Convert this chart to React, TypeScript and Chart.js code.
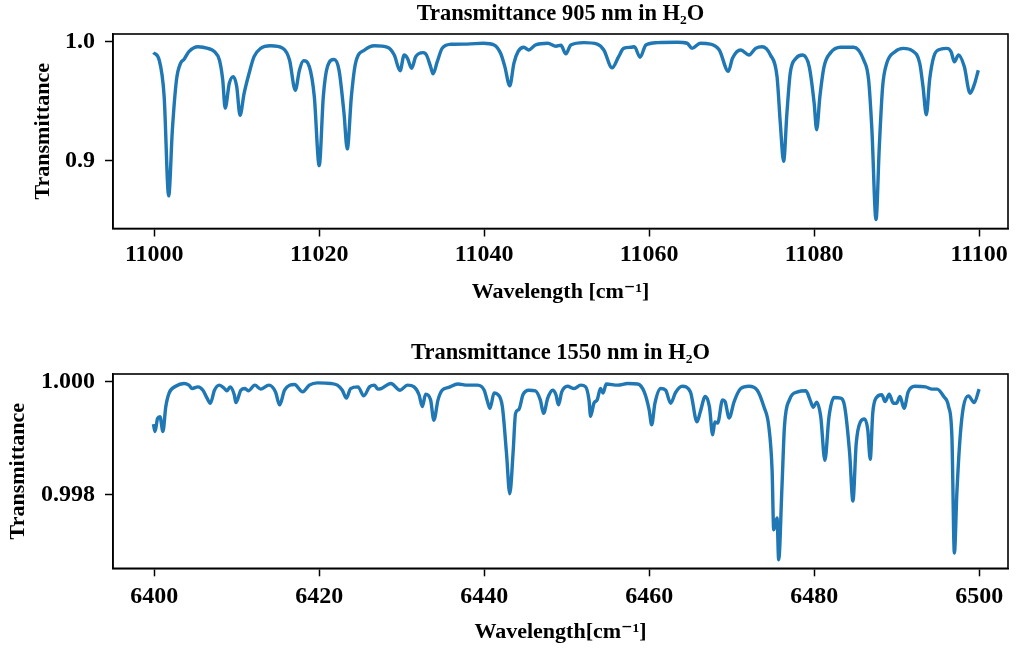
import React, { useEffect, useRef } from "react";
import { Chart, registerables } from "chart.js";

Chart.register(...registerables);

// ---------- Data: 905 nm band ----------
const WAVENUMBER_905 = [
  10999.9, 11000.6, 11001.2, 11001.75, 11002.2, 11002.7, 11003.2, 11003.6, 11004.2, 11005.3,
  11006.5, 11007.3, 11007.9, 11008.3, 11008.6, 11009.1, 11009.6, 11010.0, 11010.4, 11010.9,
  11011.5, 11012.1, 11012.9, 11014.1, 11015.6, 11016.4, 11017.1, 11017.6, 11018.1, 11018.8,
  11019.4, 11020.0, 11020.5, 11021.0, 11021.8, 11022.4, 11023.0, 11023.4, 11023.9, 11024.4,
  11025.5, 11026.7, 11028.3, 11029.1, 11029.8, 11030.3, 11030.7, 11031.2, 11031.7, 11032.6,
  11033.0, 11033.5, 11033.8, 11034.3, 11034.9, 11035.9, 11037.9, 11039.9, 11041.2, 11042.0,
  11042.5, 11043.1, 11043.6, 11044.1, 11044.8, 11045.4, 11046.2, 11047.7, 11048.7, 11049.3,
  11049.9, 11050.5, 11052.1, 11053.7, 11054.5, 11055.5, 11056.3, 11056.9, 11057.8, 11058.2,
  11058.9, 11059.6, 11061.0, 11063.4, 11064.6, 11065.2, 11066.2, 11067.4, 11068.5, 11069.6,
  11070.1, 11071.1, 11072.1, 11072.9, 11073.7, 11074.7, 11075.5, 11075.9, 11076.3, 11076.7,
  11077.1, 11077.8, 11078.6, 11079.4, 11080.0, 11080.3, 11080.7, 11081.2, 11082.0, 11083.2,
  11084.8, 11086.0, 11086.6, 11087.0, 11087.5, 11087.9, 11088.3, 11088.8, 11089.8, 11090.8,
  11091.9, 11092.8, 11093.2, 11093.6, 11094.0, 11094.5, 11095.3, 11096.1, 11096.6, 11097.0,
  11097.5, 11098.2, 11098.9, 11099.4, 11099.9,
];
const TRANS_905 = [
  0.9908, 0.9846, 0.954, 0.870, 0.926, 0.968, 0.982, 0.985, 0.9916, 0.9958,
  0.9944, 0.9916, 0.9846, 0.968, 0.944, 0.965, 0.9706, 0.962, 0.938, 0.9566,
  0.9734, 0.9874, 0.9944, 0.9966, 0.9944, 0.9846, 0.959, 0.976, 0.984, 0.979,
  0.954, 0.8955, 0.954, 0.979, 0.985, 0.976, 0.940, 0.9096, 0.954, 0.9818,
  0.993, 0.9966, 0.9953, 0.9888, 0.9755, 0.9888, 0.986, 0.9776, 0.9874, 0.9908,
  0.9888, 0.979, 0.9729, 0.983, 0.9944, 0.9978, 0.998, 0.9987, 0.9972, 0.990,
  0.979, 0.9628, 0.9818, 0.9916, 0.9953, 0.993, 0.9972, 0.9987, 0.9962, 0.997,
  0.9897, 0.9972, 0.9992, 0.998, 0.993, 0.978, 0.9874, 0.9944, 0.9953, 0.9958,
  0.9869, 0.9972, 0.9992, 0.9995, 0.9987, 0.9944, 0.9987, 0.998, 0.993, 0.975,
  0.986, 0.993, 0.9888, 0.9944, 0.9958, 0.9888, 0.9706, 0.931, 0.8992, 0.940,
  0.9734, 0.986, 0.9888, 0.979, 0.9482, 0.9258, 0.954, 0.979, 0.9908, 0.9953,
  0.9953, 0.9846, 0.968, 0.9258, 0.850, 0.9118, 0.962, 0.9818, 0.9916, 0.9944,
  0.9924, 0.9818, 0.962, 0.9384, 0.968, 0.9874, 0.9936, 0.9944, 0.9916, 0.983,
  0.9888, 0.979, 0.9566, 0.9636, 0.976,
];
const X_TICKS_905 = [11000, 11020, 11040, 11060, 11080, 11100];
const Y_TICKS_905 = [0.9, 1.0];

// ---------- Data: 1550 nm band ----------
const WAVENUMBER_1550 = [
  6399.9, 6400.1, 6400.4, 6400.7, 6401.05, 6401.4, 6401.8, 6402.6, 6403.6, 6404.2,
  6404.6, 6405.3, 6405.9, 6406.4, 6406.8, 6407.3, 6407.9, 6408.5, 6408.8, 6409.2,
  6409.7, 6409.9, 6410.5, 6411.0, 6411.4, 6412.2, 6412.9, 6413.9, 6414.7, 6415.2,
  6415.8, 6417.0, 6418.0, 6418.8, 6419.8, 6421.4, 6422.2, 6422.8, 6423.3, 6423.8,
  6424.7, 6425.4, 6426.1, 6426.7, 6427.1, 6427.5, 6428.7, 6429.8, 6430.7, 6431.5,
  6432.1, 6432.5, 6432.9, 6433.5, 6433.9, 6434.4, 6434.9, 6435.7, 6436.8, 6438.0,
  6439.2, 6440.0, 6440.4, 6440.7, 6441.2, 6441.6, 6442.2, 6442.7, 6443.1, 6443.5,
  6443.8, 6444.2, 6444.7, 6445.4, 6446.2, 6446.8, 6447.2, 6447.7, 6448.3, 6448.7,
  6449.0, 6449.4, 6450.1, 6450.9, 6451.7, 6452.3, 6452.7, 6452.9, 6453.3, 6453.7,
  6454.1, 6454.4, 6454.8, 6456.2, 6457.4, 6458.6, 6459.4, 6460.0, 6460.3, 6460.7,
  6461.4, 6462.0, 6462.6, 6463.2, 6464.0, 6465.0, 6465.8, 6466.2, 6466.8, 6467.3,
  6467.7, 6467.96, 6468.3, 6468.9, 6469.2, 6469.7, 6470.3, 6471.1, 6472.1, 6473.1,
  6473.9, 6474.5, 6474.9, 6475.1, 6475.5, 6475.7, 6476.1, 6476.4, 6477.0, 6478.0,
  6479.0, 6479.5, 6479.9, 6480.3, 6480.8, 6481.3, 6481.8, 6482.4, 6483.2, 6483.7,
  6484.3, 6484.7, 6485.1, 6485.6, 6486.1, 6486.5, 6486.8, 6487.1, 6487.5, 6488.2,
  6488.6, 6489.1, 6489.6, 6490.0, 6490.4, 6490.9, 6491.4, 6492.2, 6493.5, 6494.3,
  6494.9, 6495.7, 6496.3, 6496.7, 6497.0, 6497.3, 6497.7, 6498.1, 6498.7, 6499.4,
  6500.0,
];
const TRANS_1550 = [
  0.99925, 0.99912, 0.99935, 0.99938, 0.99912, 0.99956, 0.9998, 0.99992, 0.99997, 0.99994,
  0.99988, 0.99991, 0.99985, 0.99971, 0.99962, 0.99985, 0.99994, 0.99988, 0.99984, 0.99991,
  0.99977, 0.99963, 0.99985, 0.99988, 0.99984, 0.99994, 0.99987, 0.99994, 0.99982, 0.99959,
  0.99985, 0.99995, 0.99982, 0.99994, 0.99998, 0.99997, 0.99994, 0.99985, 0.99971, 0.99988,
  0.99991, 0.99975, 0.99991, 0.99994, 0.99987, 0.99988, 0.99997, 0.99985, 0.99994, 0.99991,
  0.99977, 0.99956, 0.99978, 0.99968, 0.99932, 0.99968, 0.99985, 0.9999, 0.99996, 0.99994,
  0.99994, 0.99985, 0.99965, 0.99953, 0.9998, 0.99978, 0.99956, 0.99874, 0.99802, 0.99874,
  0.99944, 0.99951, 0.99977, 0.99985, 0.99984, 0.99968, 0.99944, 0.99971, 0.99985, 0.99977,
  0.99959, 0.99982, 0.99992, 0.99988, 0.99994, 0.99991, 0.99968, 0.99939, 0.99962, 0.99968,
  0.99988, 0.9998, 0.99996, 0.99994, 0.99997, 0.99996, 0.99982, 0.9995, 0.99924, 0.99962,
  0.99988, 0.99985, 0.99962, 0.99981, 0.99992, 0.99982, 0.99929, 0.99947, 0.99974, 0.99956,
  0.99906, 0.99929, 0.99927, 0.99968, 0.99965, 0.99936, 0.99965, 0.99988, 0.99992, 0.99985,
  0.99956, 0.99921, 0.99844, 0.99738, 0.99759, 0.99685, 0.99815, 0.99921, 0.99968, 0.99982,
  0.99984, 0.99968, 0.99955, 0.99964, 0.99938, 0.99861, 0.99938, 0.99972, 0.99971, 0.99956,
  0.99874, 0.99789, 0.99891, 0.99929, 0.99934, 0.99915, 0.99863, 0.99944, 0.99971, 0.99977,
  0.99965, 0.99978, 0.99962, 0.99962, 0.99974, 0.99953, 0.99982, 0.99992, 0.99991, 0.99987,
  0.99987, 0.99974, 0.99956, 0.99903, 0.99697, 0.99803, 0.99903, 0.99956, 0.99975, 0.99963,
  0.99987,
];
const X_TICKS_1550 = [6400, 6420, 6440, 6460, 6480, 6500];
const Y_TICKS_1550 = [0.998, 1.0];

const FONT_FAMILY = "'Liberation Serif', 'DejaVu Serif', 'Times New Roman', serif";
const LINE_COLOR = "#1f77b4";

const framePlugin = {
  id: "frame",
  afterDatasetsDraw(chart: any) {
    const { ctx, chartArea } = chart;
    const { left, top, right, bottom } = chartArea;
    ctx.save();
    ctx.strokeStyle = "#000";
    ctx.lineWidth = 1.6;
    ctx.strokeRect(left, top, right - left, bottom - top);
    ctx.restore();
  },
};

interface PanelProps {
  xs: number[];
  ys: number[];
  title: string;
  xLabel: string;
  xTicks: number[];
  yTicks: number[];
  xMin: number;
  xMax: number;
  yMin: number;
  yMax: number;
  yDecimals: number;
  titlePadTop: number;
  titlePadBottom: number;
  xAxisHeight: number;
  xTickPad: number;
  xTitlePadBottom: number;
  yTitlePadTop: number;
  top: number;
}

function Panel(p: PanelProps) {
  const ref = useRef<HTMLCanvasElement | null>(null);
  useEffect(() => {
    if (!ref.current) return;
    const tickFont = { family: FONT_FAMILY, size: 24, weight: "bold" as const };
    const labelFont = { family: FONT_FAMILY, size: 22, weight: "bold" as const };
    const chart = new Chart(ref.current, {
      type: "line",
      data: {
        datasets: [
          {
            data: p.xs.map((x, i) => ({ x, y: p.ys[i] })),
            borderColor: LINE_COLOR,
            borderWidth: 3.4,
            pointRadius: 0,
            fill: false,
            cubicInterpolationMode: "monotone",
          },
        ],
      },
      options: {
        animation: false,
        responsive: false,
        layout: { padding: { left: 0, right: 11, top: 0, bottom: 0 } },
        plugins: {
          legend: { display: false },
          tooltip: { enabled: false },
          title: {
            display: true,
            fullSize: false,
            text: p.title,
            color: "#000",
            font: { family: FONT_FAMILY, size: 22.5, weight: "bold", lineHeight: 1 },
            padding: { top: p.titlePadTop, bottom: p.titlePadBottom },
          },
        },
        scales: {
          x: {
            type: "linear",
            min: p.xMin,
            max: p.xMax,
            afterBuildTicks: (s: any) => {
              s.ticks = p.xTicks.map((v) => ({ value: v }));
            },
            afterFit: (s: any) => {
              s.height = p.xAxisHeight;
            },
            ticks: {
              color: "#000",
              font: tickFont,
              padding: p.xTickPad,
              autoSkip: false,
              maxRotation: 0,
              callback: (v: any) => String(v),
            },
            grid: {
              display: true,
              drawOnChartArea: false,
              drawTicks: true,
              tickLength: 8,
              tickWidth: 1.5,
              tickColor: "#000",
            },
            border: { display: true, color: "#000", width: 1.5 },
            title: {
              display: true,
              text: p.xLabel,
              color: "#000",
              font: labelFont,
              padding: { top: 0, bottom: p.xTitlePadBottom },
            },
          },
          y: {
            type: "linear",
            min: p.yMin,
            max: p.yMax,
            afterBuildTicks: (s: any) => {
              s.ticks = p.yTicks.map((v) => ({ value: v }));
            },
            afterFit: (s: any) => {
              s.width = 113;
            },
            ticks: {
              color: "#000",
              font: tickFont,
              padding: 10,
              callback: (v: any) => Number(v).toFixed(p.yDecimals),
            },
            grid: {
              display: true,
              drawOnChartArea: false,
              drawTicks: true,
              tickLength: 8,
              tickWidth: 1.5,
              tickColor: "#000",
            },
            border: { display: true, color: "#000", width: 1.5 },
            title: {
              display: true,
              text: "Transmittance",
              color: "#000",
              font: labelFont,
              padding: { top: p.yTitlePadTop, bottom: 0 },
            },
          },
        },
      },
      plugins: [framePlugin],
    } as any);
    return () => chart.destroy();
  }, []);
  return (
    <canvas
      ref={ref}
      width={1019}
      height={325}
      style={{ position: "absolute", left: 0, top: p.top, width: 1019, height: 325 }}
    />
  );
}

export default function App() {
  return (
    <div style={{ position: "fixed", left: 0, top: 0, width: 1019, height: 650, background: "#fff" }}>
      <Panel
        xs={WAVENUMBER_905}
        ys={TRANS_905}
        title="Transmittance 905 nm in H₂O"
        xLabel="Wavelength [cm⁻¹]"
        xTicks={X_TICKS_905}
        yTicks={Y_TICKS_905}
        xMin={10995}
        xMax={11103.5}
        yMin={0.8425}
        yMax={1.0065}
        yDecimals={1}
        titlePadTop={3}
        titlePadBottom={8.5}
        xAxisHeight={96.5}
        xTickPad={3.5}
        xTitlePadBottom={19.8}
        yTitlePadTop={29.8}
        top={0}
      />
      <Panel
        xs={WAVENUMBER_1550}
        ys={TRANS_1550}
        title="Transmittance 1550 nm in H₂O"
        xLabel="Wavelength[cm⁻¹]"
        xTicks={X_TICKS_1550}
        yTicks={Y_TICKS_1550}
        xMin={6395}
        xMax={6503.5}
        yMin={0.99670}
        yMax={1.000137}
        yDecimals={3}
        titlePadTop={17}
        titlePadBottom={9.5}
        xAxisHeight={81.7}
        xTickPad={6}
        xTitlePadBottom={4.8}
        yTitlePadTop={4.8}
        top={325}
      />
    </div>
  );
}
